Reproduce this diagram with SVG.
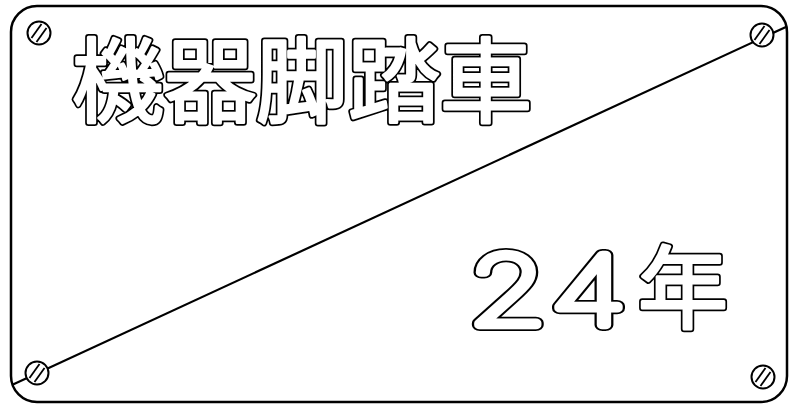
<svg xmlns="http://www.w3.org/2000/svg" width="789" height="407" viewBox="0 0 789 407">
<style>
.plate{fill:#fff;stroke:#000;stroke-width:2.5}
.diag{fill:none;stroke:#000;stroke-width:2.2}
.screw{fill:#fff;stroke:#000;stroke-width:2}
.slot{stroke:#000;stroke-width:1.8}
.t{font-family:"Noto Sans CJK JP","Noto Sans CJK SC",sans-serif;stroke-linejoin:round;stroke-linecap:round}
.o1{fill:#000;stroke:#000;stroke-width:6.5}
.o2{fill:#fff;stroke:#fff;stroke-width:3}
.d{font-family:Inter,"DejaVu Sans",sans-serif;font-weight:100;stroke-linejoin:round;stroke-linecap:round;letter-spacing:4px}
.d.o1{stroke-width:12}
.d.o2{stroke-width:8.5}
</style>
<defs>
<g id="scr">
<circle r="11.5" class="screw"/>
<line x1="-7.5" y1="5" x2="2.5" y2="-9" class="slot"/>
<line x1="-2.5" y1="9" x2="7.5" y2="-5" class="slot"/>
</g>
</defs>
<rect width="789" height="407" fill="#fff"/>
<rect id="plate" x="11" y="6" width="776" height="396" rx="26" ry="26" class="plate"/>
<line id="diagonal" x1="13" y1="384.5" x2="787" y2="26.5" class="diag"/>
<g id="screws">
<use href="#scr" x="39" y="33"/>
<use href="#scr" x="762" y="35"/>
<use href="#scr" x="37" y="373"/>
<use href="#scr" x="763" y="377"/>
</g>
<g id="title" font-size="92">
<text class="t o1" x="72" y="115">機器脚踏車</text>
<text class="t o2" x="72" y="115">機器脚踏車</text>
</g>
<g id="year">
<g transform="translate(468,325) scale(1.33,1)">
<text class="d o1" font-size="96">24</text>
<text class="d o2" font-size="96">24</text>
</g>
<text class="t o1" x="638" y="321" font-size="90">年</text>
<text class="t o2" x="638" y="321" font-size="90">年</text>
</g>
</svg>
